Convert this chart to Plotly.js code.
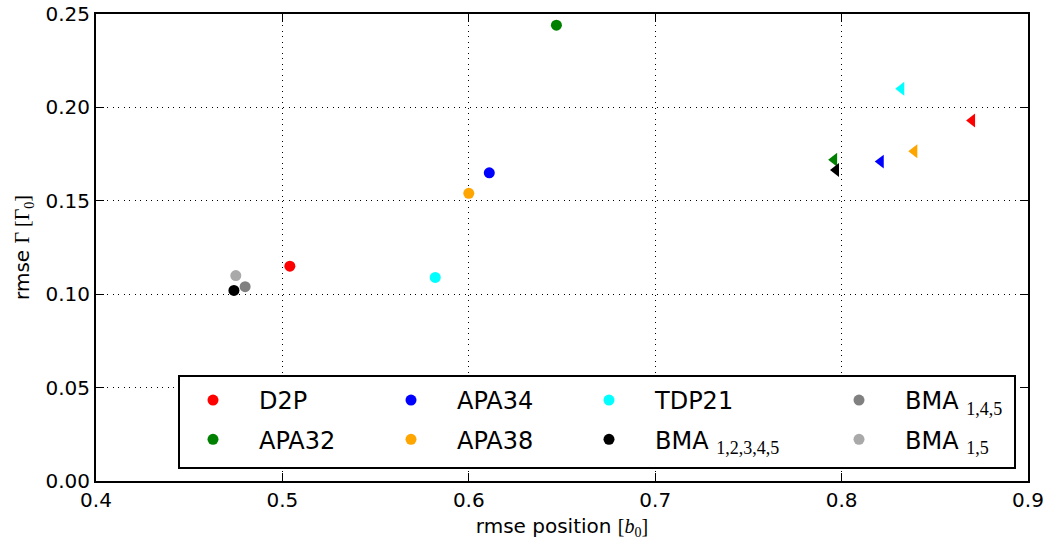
<!DOCTYPE html>
<html><head><meta charset="utf-8">
<script src="https://cdn.plot.ly/plotly-3.0.1.min.js"></script>
<style>html,body{margin:0;padding:0;background:#fff}#chart{width:1048px;height:544px}</style>
</head><body><div id="chart"></div>
<script>
// Series names and colours
const seriesNames = ['D2P','APA32','APA34','APA38','TDP21','BMA12345','BMA145','BMA15'];
const SUBF = "font-family:'Liberation Serif';font-size:18px";
const legendLabels = ['D2P','APA32','APA34','APA38','TDP21',
  'BMA <sub><span style="'+SUBF+'">1,2,3,4,5</span></sub>',
  'BMA <sub><span style="'+SUBF+'">1,4,5</span></sub>',
  'BMA <sub><span style="'+SUBF+'">1,5</span></sub>'];
const colors = ['#ff0000','#008000','#0000ff','#ffa500','#00ffff','#000000','#808080','#a9a9a9'];
// circle markers (rmse position, rmse Gamma)
const circleX = [0.504, 0.647, 0.611, 0.600, 0.582, 0.474, 0.480, 0.475];
const circleY = [0.115, 0.244, 0.165, 0.154, 0.109, 0.102, 0.104, 0.110];
// triangle markers for first six series
const triX = [0.870, 0.796, 0.821, 0.839, 0.832, 0.797];
const triY = [0.193, 0.172, 0.171, 0.1765, 0.210, 0.1665];
// legend column assignment
const legendIds = ['legend','legend','legend2','legend2','legend3','legend3','legend4','legend4'];
const xTicks = [0.4,0.5,0.6,0.7,0.8,0.9];
const yTicks = [0.00,0.05,0.10,0.15,0.20,0.25];

const traces = [];
for (let i=0;i<seriesNames.length;i++){
  traces.push({type:'scatter',mode:'markers',x:[circleX[i]],y:[circleY[i]],
    name:legendLabels[i],legend:legendIds[i],legendgroup:'g'+i,
    marker:{symbol:'circle',size:11,color:colors[i],line:{width:0}},hoverinfo:'skip'});
}
for (let i=0;i<triX.length;i++){
  traces.push({type:'scatter',mode:'markers',x:[triX[i]],y:[triY[i]],showlegend:false,
    marker:{symbol:'triangle-left',size:12,color:colors[i],line:{width:0}},hoverinfo:'skip'});
}
const L=96,R=1028,T=14,B=481;
const px=v=>(v-L)/(R-L), py=v=>(B-v)/(B-T);
const legCommon = {orientation:'v',xanchor:'left',yanchor:'middle',y:py(420),bgcolor:'rgba(0,0,0,0)',
  borderwidth:0,font:{family:'DejaVu Sans',size:24,color:'#000'},itemwidth:82,tracegroupgap:5,itemclick:false};
const axisCommon = {showline:true,linecolor:'#000',linewidth:2,mirror:'allticks',ticks:'inside',ticklen:8,
  tickwidth:1,tickcolor:'#000',showgrid:true,gridcolor:'#000',gridwidth:1,griddash:'1px,4.5px',zeroline:false,
  tickfont:{family:'DejaVu Sans',size:20,color:'#000'}};
const layout = {
  width:1048,height:544,margin:{l:L,r:1048-R,t:T,b:544-B},paper_bgcolor:'#fff',plot_bgcolor:'#fff',
  font:{family:'DejaVu Sans',color:'#000'},
  xaxis:Object.assign({},axisCommon,{range:[0.4,0.9],tickvals:xTicks,ticktext:xTicks.map(v=>v.toFixed(1)),
    title:{text:'rmse position <span style="font-family:\'Liberation Serif\'">[<i>b</i><sub>0</sub>]</span>',font:{size:20,family:'DejaVu Sans'},standoff:8}}),
  yaxis:Object.assign({},axisCommon,{range:[0,0.25],tickvals:yTicks,ticktext:yTicks.map(v=>v.toFixed(2)),
    title:{text:'rmse <span style="font-family:\'Liberation Serif\'">Γ [Γ<sub>0</sub>]</span>',font:{size:20,family:'DejaVu Sans'},standoff:10}}),
  legend:Object.assign({},legCommon,{x:px(167)}),
  legend2:Object.assign({},legCommon,{x:px(365)}),
  legend3:Object.assign({},legCommon,{x:px(563)}),
  legend4:Object.assign({},legCommon,{x:px(813)}),
  shapes:[{type:'rect',xref:'paper',yref:'paper',x0:px(179),x1:px(1015),y0:py(468),y1:py(376),
    line:{color:'#000',width:2},fillcolor:'#fff',layer:'above'}],
  showlegend:true
};
Plotly.newPlot('chart',traces,layout,{staticPlot:true});
</script></body></html>
